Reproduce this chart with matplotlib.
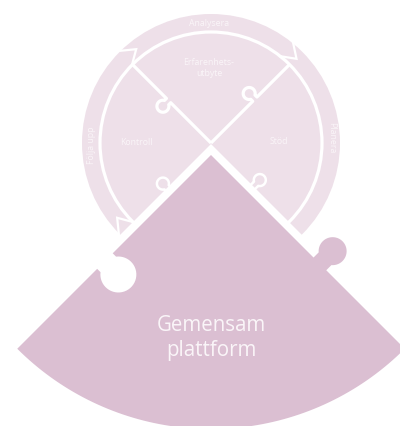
"""Puzzle diagram: shared platform with a cycle ring (Följa upp / Analysera / Planera)."""

import numpy as np
import matplotlib
matplotlib.use("Agg")
import matplotlib.pyplot as plt
from matplotlib.patches import Polygon, Circle

OUTPUT_PNG = "out.png"

LIGHT = "#EEE0E9"
DARK = "#DBBFD2"
TEXT = "#FAF5F8"

# labels
RING_LABELS = ["Följa upp", "Analysera", "Planera"]
PIECE_LABELS = ["Kontroll", "Erfarenhets-\nutbyte", "Stöd"]
PLATFORM_LABEL = "Gemensam\nplattform"

# geometry, in pixels (y down)
CX, CY = 211, 144          # centre of the cycle circle
R_OUT, R_LINE = 129, 111   # ring outer radius, white ring line
APEX = (211, 156)          # apex of the platform wedge
R_WEDGE = 274
CHEVRON_ANGLES = [228, 312, 138]   # degrees, pixel frame


def unit(dx, dy):
    v = np.array([dx, dy], float)
    return v / np.hypot(*v)


def knob(p0, u, n, t, w, r, d, steps=40):
    """Points along a line p0 + u*s with a round knob at s=t on side n."""
    p0 = np.asarray(p0, float)
    base = p0 + u * t
    c = base + n * d
    h = np.sqrt(r * r - (w / 2) ** 2)
    fs = np.arctan2(-h, -w / 2)
    fe = np.arctan2(-h, w / 2) - 2 * np.pi
    pts = [base - u * w / 2]
    for f in np.linspace(fs, fe, steps):
        pts.append(c + r * (np.cos(f) * u + np.sin(f) * n))
    pts.append(base + u * w / 2)
    return pts


def main():
    fig = plt.figure(figsize=(4.0, 4.27), dpi=100)
    ax = fig.add_axes([0, 0, 1, 1])
    ax.set_xlim(0, 400)
    ax.set_ylim(427, 0)
    ax.axis("off")

    # cycle circle
    ax.add_patch(Circle((CX, CY), R_OUT, facecolor=LIGHT, edgecolor="none"))
    ax.add_patch(Circle((CX, CY), R_LINE, facecolor="none", edgecolor="white", lw=2.3))

    # arrow chevrons in the ring
    dlt = 0.06
    for a in CHEVRON_ANGLES:
        f = np.radians(a)
        rs = [R_OUT + 2, (R_OUT + R_LINE) / 2, R_LINE]
        fs = [f - dlt, f + dlt, f - dlt]
        xs = [CX + r * np.cos(q) for r, q in zip(rs, fs)]
        ys = [CY + r * np.sin(q) for r, q in zip(rs, fs)]
        ax.plot(xs, ys, color="white", lw=1.6, solid_joinstyle="miter")

    # dividers between the light pieces
    c0 = np.array([CX, CY], float)
    ul, ur = unit(-1, -1), unit(1, -1)
    for u, n, t in [(ul, unit(-1, 1), 60), (ur, unit(-1, -1), 62)]:
        pts = [c0] + knob(c0, u, n, t, 6, 6, 8) + [c0 + u * R_LINE]
        pts = np.array(pts)
        ax.plot(pts[:, 0], pts[:, 1], color="white", lw=2.3, solid_capstyle="butt")

    # white gap under the light pieces
    g = (CX, CY + 1)
    ax.add_patch(Polygon([g, (g[0] - 320, g[1] + 320), (g[0] + 320, g[1] + 320)],
                         closed=True, facecolor="white", edgecolor="none"))

    # knob outlines on the lower edges of Kontroll and Stöd
    g = np.array(g, float)
    for u, n, t, d in [(unit(-1, 1), unit(-1, -1), 62, 6), (unit(1, 1), unit(1, -1), 60, 9)]:
        pts = np.array(knob(g, u, n, t, 6, 6, d))
        ax.plot(pts[:, 0], pts[:, 1], color="white", lw=1.8)

    # platform wedge
    a = np.array(APEX, float)
    ur_e, ul_e = unit(1, 1), unit(-1, 1)
    right = [a] + knob(a, ur_e, unit(1, -1), 154, 18, 14, 18) + [a + ur_e * R_WEDGE]
    arc = [a + R_WEDGE * np.array([np.cos(f), np.sin(f)])
           for f in np.linspace(np.radians(45), np.radians(135), 80)]
    left = [a] + knob(a, ul_e, unit(1, 1), 150, 22, 18, 19) + [a + ul_e * R_WEDGE]
    ax.add_patch(Polygon(right + arc + left[::-1], closed=True,
                         facecolor=DARK, edgecolor="none"))

    # texts
    small = dict(color=TEXT, fontsize=6.3, family="Open Sans", ha="center", va="center")
    ax.text(92, 145, RING_LABELS[0], rotation=90, **small)
    ax.text(209, 23, RING_LABELS[1], **small)
    ax.text(332, 138, RING_LABELS[2], rotation=-90, **small)
    ax.text(136, 143, PIECE_LABELS[0], **small)
    ax.text(209, 68, PIECE_LABELS[1], linespacing=1.4, **small)
    ax.text(279, 142, PIECE_LABELS[2], **small)
    ax.text(211, 338, PLATFORM_LABEL, color=TEXT, fontsize=14.8, family="Open Sans",
            ha="center", va="center", linespacing=1.25)

    fig.savefig(OUTPUT_PNG, dpi=100)


if __name__ == "__main__":
    main()
